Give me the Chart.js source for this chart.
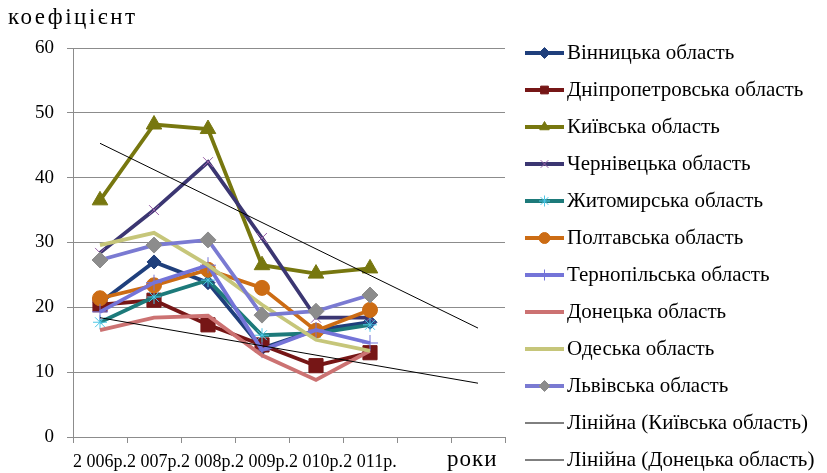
<!DOCTYPE html>
<html>
<head>
<meta charset="utf-8">
<script src="https://cdn.jsdelivr.net/npm/chart.js@4.4.0/dist/chart.umd.min.js"></script>
<style>
  body { margin: 0; background: #fff; }
  #wrap { width: 827px; height: 473px; }
</style>
</head>
<body>
<div id="wrap"><canvas id="myChart"></canvas></div>
<script>
// categories (last two are empty, the trend lines run into them)
const years = ['2 006р.', '2 007р.', '2 008р.', '2 009р.', '2 010р.', '2 011р.', '', ''];

// series values
const vinnytsia   = [20.7, 27.0, 23.8, 13.7, 16.5, 17.7];
const dnipro      = [20.4, 21.1, 17.3, 14.2, 11.0, 13.0];
const kyiv        = [36.5, 48.2, 47.5, 26.5, 25.2, 26.0];
const chernivtsi  = [28.4, 35.0, 42.4, 30.7, 18.4, 18.4];
const zhytomyr    = [17.7, 21.6, 24.2, 15.7, 16.0, 17.3];
const poltava     = [21.4, 23.4, 25.8, 23.0, 16.4, 19.6];
const ternopil    = [19.3, 23.8, 26.5, 13.4, 16.5, 14.5];
const donetsk     = [16.5, 18.4, 18.7, 12.6, 8.8, 13.3];
const odesa       = [29.6, 31.5, 26.5, 20.4, 15.0, 13.3];
const lviv        = [27.3, 29.6, 30.4, 18.8, 19.4, 21.9];
// trend line ends (first and last category)
const kyivTrend    = [45.3, null, null, null, null, null, null, 16.8];
const donetskTrend = [18.4, null, null, null, null, null, null, 8.3];

const yTicks = { min: 0, max: 60, step: 10 };

const serif = 'Liberation Serif';

function series(label, data, color, style, radius, markFill, markBorder) {
  return {
    label: label,
    data: data,
    borderColor: color,
    backgroundColor: color,
    borderWidth: 3.8,
    tension: 0,
    pointStyle: style,
    pointRadius: style ? radius : 0,
    pointBackgroundColor: markFill || color,
    pointBorderColor: markBorder || markFill || color,
    pointBorderWidth: 1
  };
}

const datasets = [
  series('Вінницька область', vinnytsia, '#1f3f7c', 'rectRot', 7),
  series('Дніпропетровська область', dnipro, '#761616', 'rect', 10),
  series('Київська область', kyiv, '#77770f', 'triangle', 9),
  series('Чернівецька область', chernivtsi, '#3b3672', 'crossRot', 7, '#9a62a8', '#9a62a8'),
  series('Житомирська область', zhytomyr, '#1d7a7a', 'star', 7, '#4cc6e6', '#4cc6e6'),
  series('Полтавська область', poltava, '#cc6c14', 'circle', 7.5),
  series('Тернопільська область', ternopil, '#7474d8', 'cross', 8, '#7474d8', '#7474d8'),
  series('Донецька область', donetsk, '#cc7272', null, 0),
  series('Одеська область', odesa, '#c6c67a', null, 0),
  series('Львівська область', lviv, '#7a7ad2', 'rectRot', 8, '#8c8c8c', '#8c8c8c'),
  {
    label: 'Лінійна (Київська область)', data: kyivTrend, borderColor: '#000',
    borderWidth: 1, pointRadius: 0, spanGaps: true
  },
  {
    label: 'Лінійна (Донецька область)', data: donetskTrend, borderColor: '#000',
    borderWidth: 1, pointRadius: 0, spanGaps: true
  }
];
// excel paints later series on top
datasets.forEach((d, i) => { d.order = datasets.length - i; });

const extras = {
  id: 'extras',
  afterDraw(chart) {
    const ctx = chart.ctx;
    ctx.save();
    ctx.fillStyle = '#000';
    ctx.textBaseline = 'middle';
    ctx.font = '23px "' + serif + '"';
    ctx.letterSpacing = '2.5px';
    ctx.fillText('коефіцієнт', 8, 18);
    ctx.letterSpacing = '1px';
    ctx.fillText('роки', 447, 460);
    ctx.letterSpacing = '0px';

    ctx.font = '21px "' + serif + '"';
    chart.data.datasets.forEach((ds, i) => {
      const y = 53 + i * 37.0;
      ctx.beginPath();
      ctx.strokeStyle = ds.borderColor;
      ctx.lineWidth = ds.borderWidth;
      ctx.moveTo(525, y);
      ctx.lineTo(564, y);
      ctx.stroke();
      if (ds.pointRadius > 0) {
        ctx.fillStyle = ds.pointBackgroundColor;
        ctx.strokeStyle = ds.pointBorderColor;
        ctx.lineWidth = 1;
        Chart.helpers.drawPoint(ctx, { pointStyle: ds.pointStyle, radius: 5.5, borderWidth: 1 }, 544.5, y);
      }
      ctx.fillStyle = '#000';
      ctx.fillText(ds.label, 567, y);
    });
    ctx.restore();
  }
};

var ctx = document.getElementById('myChart').getContext('2d');
var chart = new Chart(ctx, {
  type: 'line',
  data: { labels: years, datasets: datasets },
  options: {
    responsive: true,
    maintainAspectRatio: false,
    animation: false,
    layout: { padding: { top: 48, right: 322, left: 0, bottom: 0 } },
    plugins: { legend: { display: false }, tooltip: { enabled: false } },
    scales: {
      x: {
        offset: true,
        grid: { offset: true, drawOnChartArea: false, tickLength: 6, color: '#8c8c8c' },
        border: { color: '#8c8c8c' },
        ticks: { autoSkip: false, maxRotation: 0, padding: 8, color: '#000', font: { family: serif, size: 18 } },
        afterFit(s) { s.height = 36; }
      },
      y: {
        min: yTicks.min,
        max: yTicks.max,
        grid: { color: '#8c8c8c', tickLength: 6 },
        border: { color: '#8c8c8c' },
        ticks: { stepSize: yTicks.step, padding: 13, color: '#000', font: { family: serif, size: 19 } },
        afterFit(s) { s.width = 73; }
      }
    }
  },
  plugins: [extras]
});
</script>
</body>
</html>
